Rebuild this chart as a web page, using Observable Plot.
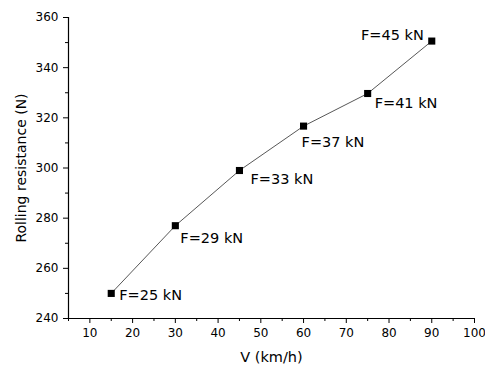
<!DOCTYPE html>
<html>
<head>
<meta charset="utf-8">
<script src="https://cdn.jsdelivr.net/npm/d3@7"></script>
<script src="https://cdn.jsdelivr.net/npm/@observablehq/plot@0.6"></script>
<style>
  html, body { margin: 0; padding: 0; background: #fff; }
  #chart { width: 485px; height: 369px; overflow: hidden; }
  svg { overflow: visible; }
</style>
</head>
<body>
<div id="chart"></div>
<script>
// Data
const speeds = [15, 30, 45, 60, 75, 90];           // V (km/h)
const resistance = [250, 277, 299, 316.7, 329.7, 350.6]; // Rolling resistance (N)
const loads = ["F=25 kN", "F=29 kN", "F=33 kN", "F=37 kN", "F=41 kN", "F=45 kN"];
const xMajorTicks = [10, 20, 30, 40, 50, 60, 70, 80, 90, 100];
const xMinorTicks = [5, 15, 25, 35, 45, 55, 65, 75, 85, 95];
const yMajorTicks = [240, 260, 280, 300, 320, 340, 360];
const yMinorTicks = [250, 270, 290, 310, 330, 350];
const xTitle = "V (km/h)";
const yTitle = "Rolling resistance (N)";

const data = speeds.map((v, i) => ({v, r: resistance[i], label: loads[i]}));

// label placement relative to each point (layout, not data)
const place = [
  {dx: 8, dy: 2, anchor: "start"},
  {dx: 5, dy: 13, anchor: "start"},
  {dx: 11, dy: 9, anchor: "start"},
  {dx: -2, dy: 16, anchor: "start"},
  {dx: 7, dy: 10, anchor: "start"},
  {dx: -8, dy: -6, anchor: "end"}
];

const font = "'DejaVu Sans', 'Liberation Sans', Arial, sans-serif";

const chart = Plot.plot({
  width: 485,
  height: 369,
  marginLeft: 68,
  marginRight: 11,
  marginTop: 17,
  marginBottom: 51,
  style: {fontFamily: font, fontSize: "12px", color: "#000", background: "#fff"},
  x: {domain: [5, 100]},
  y: {domain: [240, 360]},
  marks: [
    Plot.axisX({ticks: xMajorTicks, tickSize: 5, tickPadding: 5, label: null, fontSize: 12, stroke: "#000", fill: "#000"}),
    Plot.axisX({ticks: xMinorTicks, tickSize: 3, text: null, label: null, stroke: "#000"}),
    Plot.axisY({ticks: yMajorTicks, tickSize: 5, tickPadding: 5, label: null, fontSize: 12, stroke: "#000", fill: "#000"}),
    Plot.axisY({ticks: yMinorTicks, tickSize: 3, text: null, label: null, stroke: "#000"}),
    Plot.ruleX([5], {y1: 240, y2: 360, stroke: "#000", strokeWidth: 1.2}),
    Plot.ruleY([240], {x1: 5, x2: 100, stroke: "#000", strokeWidth: 1.2}),
    Plot.line(data, {x: "v", y: "r", stroke: "#444", strokeWidth: 0.9}),
    Plot.dot(data, {x: "v", y: "r", symbol: "square", r: 4, fill: "#000", stroke: "none"}),
    ...data.map((d, i) => Plot.text([d], {
      x: "v", y: "r", text: "label",
      dx: place[i].dx, dy: place[i].dy, textAnchor: place[i].anchor,
      fontSize: 14.5, fill: "#000"
    })),
    Plot.text([xTitle], {frameAnchor: "bottom", textAnchor: "middle", lineAnchor: "middle", dy: 39, fontSize: 14.5, fill: "#000"}),
    Plot.text([yTitle], {frameAnchor: "left", textAnchor: "middle", lineAnchor: "middle", rotate: -90, dx: -47, fontSize: 14, fill: "#000"})
  ]
});
document.getElementById("chart").appendChild(chart);
</script>
</body>
</html>
